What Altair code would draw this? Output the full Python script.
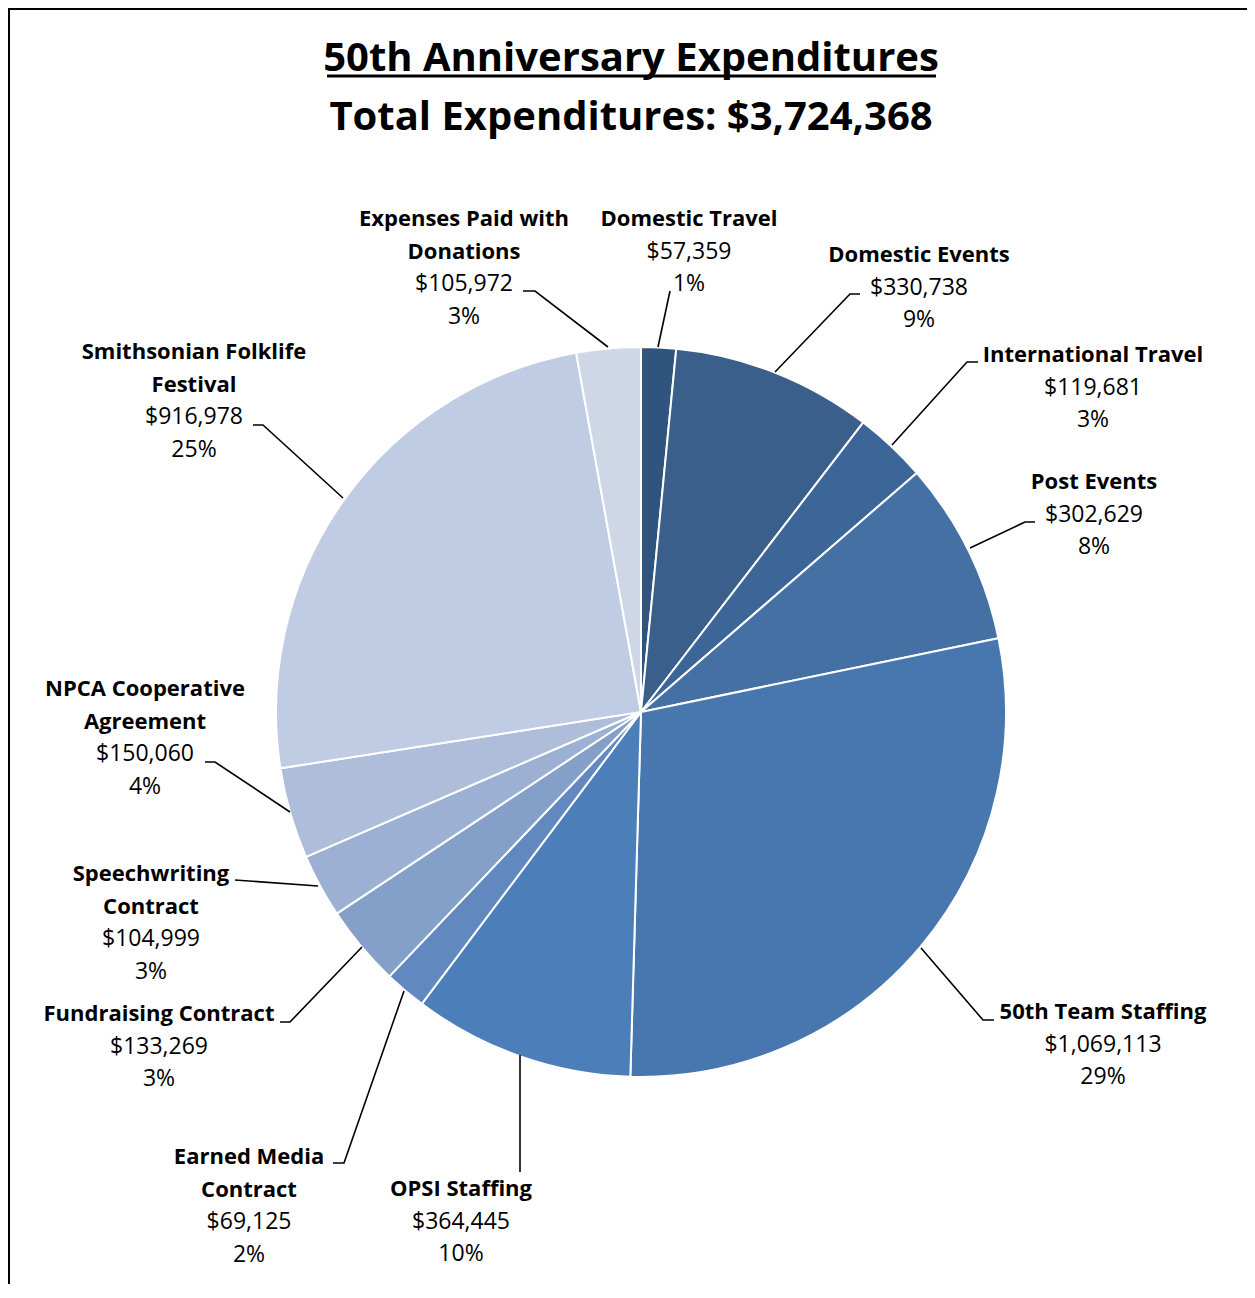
import altair as alt
import pandas as pd

# ---------------- data ----------------
categories = ["Domestic Travel", "Domestic Events", "International Travel", "Post Events",
              "50th Team Staffing", "OPSI Staffing", "Earned Media Contract",
              "Fundraising Contract", "Speechwriting Contract", "NPCA Cooperative Agreement",
              "Smithsonian Folklife Festival", "Expenses Paid with Donations"]
values = [57359, 330738, 119681, 302629, 1069113, 364445, 69125, 133269, 104999,
          150060, 916978, 105972]
percents = ["1%", "9%", "3%", "8%", "29%", "10%", "2%", "3%", "3%", "4%", "25%", "3%"]
name_lines = [["Domestic Travel"], ["Domestic Events"], ["International Travel"], ["Post Events"],
              ["50th Team Staffing"], ["OPSI Staffing"], ["Earned Media", "Contract"],
              ["Fundraising Contract"], ["Speechwriting", "Contract"],
              ["NPCA Cooperative", "Agreement"], ["Smithsonian Folklife", "Festival"],
              ["Expenses Paid with", "Donations"]]
title_line1 = "50th Anniversary Expenditures"
title_line2 = "Total Expenditures: $3,724,368"

# ---------------- styling / layout ----------------
colors = ["#2F547E", "#395F8A", "#3D6698", "#4570A3", "#4877AF", "#4C7EB9", "#6189C0",
          "#84A0C9", "#9BB0D3", "#AEBDDA", "#BFCCE3", "#CFD7E7"]
OFF = 8  # page margin
W, H = 1239, 1276
CX, CY, R = 641 - OFF, 712 - OFF, 365
FONT = "Open Sans"
FS_B = 22
FS_N = 23
TFS = 40
LINE = 32.6
# label anchors (page px): centre x, first line y
label_x = [689, 919, 1093, 1094, 1103, 461, 249, 159, 151, 145, 194, 464]
label_y = [219, 255, 355, 482, 1012, 1189, 1157, 1014, 874, 689, 352, 219]
leaders = [
    [(670, 291), (658, 347)],
    [(860, 294), (850, 294), (775, 372)],
    [(978, 362), (967, 362), (892, 445)],
    [(1035, 522), (1025, 522), (970, 548)],
    [(994, 1020), (983, 1020), (921, 948)],
    [(520, 1172), (520, 1055)],
    [(333, 1163), (344, 1163), (404, 991)],
    [(280, 1022), (290, 1022), (362, 947)],
    [(235, 880), (318, 886)],
    [(205, 762), (215, 762), (290, 812)],
    [(253, 425), (263, 425), (343, 498)],
    [(523, 291), (535, 291), (608, 347)],
]

# ---------------- tables ----------------
slices = pd.DataFrame({"category": categories, "value": values, "idx": range(len(values))})

rows = []
for i, cat in enumerate(categories):
    lines = [(t, True) for t in name_lines[i]] + [(f"${values[i]:,}", False), (percents[i], False)]
    for j, (t, bold) in enumerate(lines):
        rows.append({"text": t, "bold": bold, "x": label_x[i] - OFF,
                     "y": label_y[i] - OFF + j * LINE})
labels = pd.DataFrame(rows)

lrows = []
for i, pts in enumerate(leaders):
    for k, (px, py) in enumerate(pts):
        lrows.append({"id": i, "k": k, "x": px - OFF, "y": py - OFF})
lead = pd.DataFrame(lrows)

xs = alt.Scale(domain=[0, W], range=[0, W])
ys = alt.Scale(domain=[0, H], reverse=True)

base_x = lambda f: alt.X(f, type="quantitative", scale=xs, axis=None)
base_y = lambda f: alt.Y(f, type="quantitative", scale=ys, axis=None)

shadow = alt.Chart(pd.DataFrame({"v": [1]})).mark_arc(
    outerRadius=R + 3, color="#D4D4D4").encode(
    theta=alt.Theta("v:Q"), x=alt.value(CX + 1), y=alt.value(CY + 1))

pie = alt.Chart(slices).mark_arc(outerRadius=R, stroke="white", strokeWidth=2).encode(
    theta=alt.Theta("value:Q", stack=True),
    order=alt.Order("idx:Q"),
    color=alt.Color("category:N", scale=alt.Scale(domain=categories, range=colors), legend=None),
    x=alt.value(CX), y=alt.value(CY),
)

lines_layer = alt.Chart(lead).mark_line(color="black", strokeWidth=1.6).encode(
    x=base_x("x"), y=base_y("y"), detail="id:N", order="k:Q")

bold_txt = alt.Chart(labels[labels.bold]).mark_text(
    font=FONT, fontSize=FS_B, fontWeight="bold", color="black", baseline="middle", align="center"
).encode(x=base_x("x"), y=base_y("y"), text="text:N")

norm_txt = alt.Chart(labels[~labels.bold]).mark_text(
    font=FONT, fontSize=FS_N, color="black", baseline="middle", align="center"
).encode(x=base_x("x"), y=base_y("y"), text="text:N")

tdf = pd.DataFrame({"t": [1]})
t1 = alt.Chart(tdf).mark_text(font=FONT, fontSize=TFS, fontWeight="bold", color="black",
                              baseline="alphabetic", align="center").encode(
    x=alt.value(631 - OFF), y=alt.value(71 - OFF), text=alt.value(title_line1))
t2 = alt.Chart(tdf).mark_text(font=FONT, fontSize=TFS, fontWeight="bold", color="black",
                              baseline="alphabetic", align="center").encode(
    x=alt.value(631 - OFF), y=alt.value(130 - OFF), text=alt.value(title_line2))
uline = alt.Chart(tdf).mark_rule(color="black", strokeWidth=3).encode(
    x=alt.value(327 - OFF), x2=alt.value(936 - OFF), y=alt.value(76 - OFF))

border_l = alt.Chart(tdf).mark_rule(color="black", strokeWidth=2).encode(
    x=alt.value(1), y=alt.value(0), y2=alt.value(H))
border_t = alt.Chart(tdf).mark_rule(color="black", strokeWidth=2).encode(
    x=alt.value(0), x2=alt.value(W), y=alt.value(1))

chart = alt.layer(shadow, pie, lines_layer, bold_txt, norm_txt, t1, t2, uline,
                  border_l, border_t).properties(
    width=W, height=H, padding=0, autosize=alt.AutoSizeParams(type="none")
).configure_view(stroke=None)

chart.save("out.html", embed_options={"renderer": "svg", "actions": False})
